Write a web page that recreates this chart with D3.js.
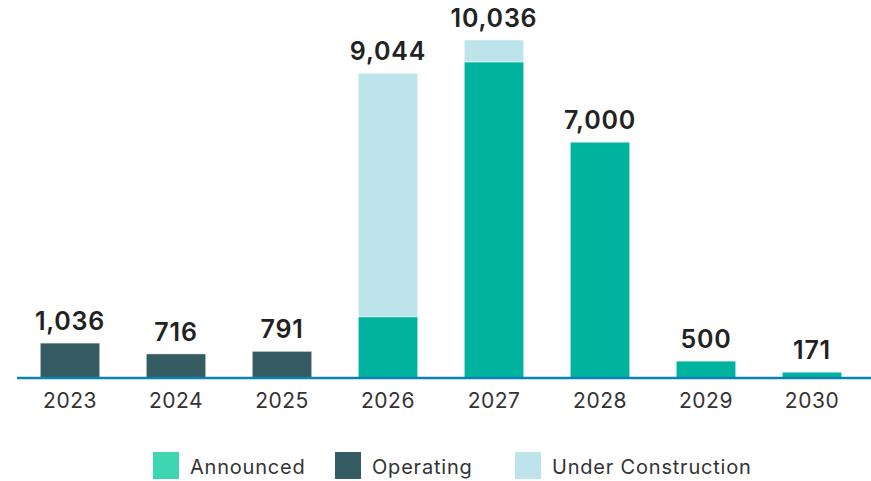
<!DOCTYPE html>
<html>
<head>
<meta charset="utf-8">
<script src="https://cdn.jsdelivr.net/npm/d3@7"></script>
<style>
  body { margin: 0; background: #fff; }
  text { font-family: "Inter", "Open Sans", sans-serif; }
</style>
</head>
<body>
<div id="chart"></div>
<script>
const years = ["2023", "2024", "2025", "2026", "2027", "2028", "2029", "2030"];
const operating = [1036, 716, 791, 0, 0, 0, 0, 0];
const announced = [0, 0, 0, 1820, 9386, 7000, 500, 171];
const underConstruction = [0, 0, 0, 7224, 650, 0, 0, 0];
const seriesNames = ["Announced", "Operating", "Under Construction"];

const width = 871, height = 481;
const barColor = {"Operating": "#345c62", "Announced": "#00b39e", "Under Construction": "#bde4ea"};
const legendColor = {"Operating": "#345c62", "Announced": "#3dd6b0", "Under Construction": "#bde4ea"};

const svg = d3.select("#chart").append("svg")
    .attr("width", width)
    .attr("height", height);

const rows = years.map(function(y, i) {
  return {year: y, "Operating": operating[i], "Announced": announced[i], "Under Construction": underConstruction[i]};
});

const x = d3.scaleBand()
    .domain(years)
    .range([17, 865])
    .paddingInner(0.44)
    .paddingOuter(0.22);

const y = d3.scaleLinear()
    .domain([0, 10036])
    .range([378, 40]);

// operating first, then announced, under construction on top
const stacked = d3.stack().keys(["Operating", "Announced", "Under Construction"])(rows);

svg.append("g")
  .selectAll("g")
  .data(stacked)
  .enter().append("g")
    .attr("fill", function(d) { return barColor[d.key]; })
  .selectAll("rect")
  .data(function(d) { return d.filter(function(v) { return v[1] - v[0] > 0; }); })
  .enter().append("rect")
    .attr("x", function(d) { return x(d.data.year); })
    .attr("y", function(d) { return y(d[1]); })
    .attr("height", function(d) { return y(d[0]) - y(d[1]); })
    .attr("width", x.bandwidth())
    .attr("stroke", "rgba(255,255,255,0.45)")
    .attr("stroke-width", 1);

// totals
svg.append("g")
  .selectAll("text")
  .data(rows)
  .enter().append("text")
    .attr("x", function(d) { return x(d.year) + x.bandwidth() / 2; })
    .attr("y", function(d) { return y(d.Operating + d.Announced + d["Under Construction"]) - 13; })
    .attr("text-anchor", "middle")
    .attr("font-size", 25)
    .attr("font-weight", 600)
    .attr("letter-spacing", 0.8)
    .attr("fill", "#222")
    .text(function(d) { return d3.format(",")(d.Operating + d.Announced + d["Under Construction"]); });

// x axis
const xAxis = svg.append("g")
    .attr("transform", "translate(0,378)")
    .call(d3.axisBottom(x).tickSize(0).tickPadding(15));
xAxis.select(".domain").remove();
xAxis.selectAll("text")
    .attr("font-size", 21)
    .attr("letter-spacing", 0.5)
    .attr("fill", "#333")
    .style("font-family", "Inter, sans-serif");
svg.append("line")
    .attr("x1", 17).attr("x2", width)
    .attr("y1", 378).attr("y2", 378)
    .attr("stroke", "#0a82b2")
    .attr("stroke-width", 2.5);

// legend
const legendX = [153, 335, 515];
const legend = svg.append("g")
  .selectAll("g")
  .data(seriesNames)
  .enter().append("g")
    .attr("transform", function(d, i) { return "translate(" + legendX[i] + ",452)"; });

legend.append("rect")
    .attr("width", 26)
    .attr("height", 27)
    .attr("fill", function(d) { return legendColor[d]; });

legend.append("text")
    .attr("x", 37)
    .attr("y", 15)
    .attr("dy", "0.35em")
    .attr("font-size", 20)
    .attr("letter-spacing", 0.8)
    .attr("fill", "#333")
    .text(function(d) { return d; });
</script>
</body>
</html>
